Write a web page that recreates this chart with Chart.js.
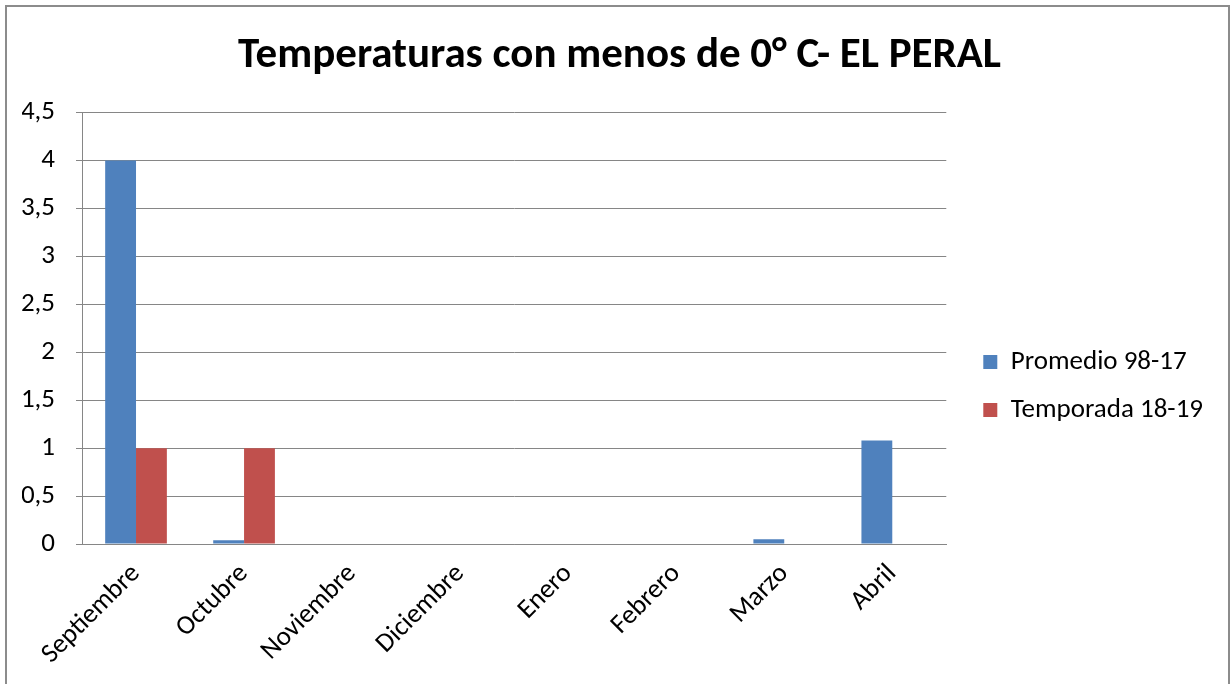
<!DOCTYPE html>
<html>
<head>
<meta charset="utf-8">
<script src="https://cdn.jsdelivr.net/npm/chart.js@4/dist/chart.umd.min.js"></script>
<style>
  html, body { margin: 0; padding: 0; background: #fff; }
  #frame {
    position: absolute; left: 5px; top: 5px; width: 1225px; height: 700px;
    border: 2px solid #8c8c8c; box-sizing: border-box;
  }
  #wrap { position: absolute; left: 0; top: 0; width: 1230px; height: 684px; }
</style>
</head>
<body>
<div id="frame"></div>
<div id="wrap"><canvas id="ctx"></canvas></div>
<script>
const months = ['Septiembre', 'Octubre', 'Noviembre', 'Diciembre', 'Enero', 'Febrero', 'Marzo', 'Abril']
const promedio = [4, 0.04, 0, 0, 0, 0, 0.05, 1.08]
const temporada = [1, 1, 0, 0, 0, 0, 0, 0]
const seriesNames = ['Promedio 98-17', 'Temporada 18-19']
const titleText = 'Temperaturas con menos de 0° C- EL PERAL'

const font = "Carlito, Calibri, 'Open Sans', sans-serif"

// nudges legend and title after layout (Excel puts them slightly off the chart.js spots)
const boxNudge = {
  id: 'boxNudge',
  afterLayout: (chart, args, opts) => {
    const lg = chart.legend
    if (lg) {
      lg.left += opts.legendDx; lg.right += opts.legendDx
      lg.top += opts.legendDy; lg.bottom += opts.legendDy
    }
    const tb = chart.titleBlock
    if (tb) {
      tb.left += opts.titleDx; tb.right += opts.titleDx
    }
  }
}

const data = {
  labels: months,
  datasets: [{
    label: seriesNames[0],
    data: promedio,
    backgroundColor: '#4f81bd',
    categoryPercentage: 0.571,
    barPercentage: 1
  }, {
    label: seriesNames[1],
    data: temporada,
    backgroundColor: '#c0504d',
    categoryPercentage: 0.571,
    barPercentage: 1
  }]
}

const chart = new Chart(document.getElementById('ctx'), {
  type: 'bar',
  data,
  options: {
    responsive: true,
    maintainAspectRatio: false,
    animation: false,
    layout: { padding: { left: 22, right: 33, top: 20, bottom: 0 } },
    plugins: {
      title: {
        display: true,
        text: titleText,
        color: '#000',
        font: { family: font, size: 43, weight: 'bold' },
        padding: { top: 10, bottom: 31 }
      },
      legend: {
        position: 'right',
        align: 'center',
        labels: {
          color: '#000',
          font: { family: font, size: 27 },
          boxWidth: 14,
          boxHeight: 14,
          padding: 21
        }
      },
      boxNudge: { legendDx: 16, legendDy: 34, titleDx: 10 },
      tooltip: { enabled: false }
    },
    scales: {
      x: {
        grid: { display: false, drawTicks: false },
        border: { color: '#868686', width: 1 },
        ticks: {
          color: '#000',
          font: { family: font, size: 27 },
          minRotation: 45,
          maxRotation: 45,
          padding: 14
        },
        afterFit: s => { s.paddingLeft = 0; s.height = 140 }
      },
      y: {
        min: 0,
        max: 4.5,
        grid: { color: '#868686', tickLength: 6 },
        border: { color: '#868686' },
        ticks: {
          stepSize: 0.5,
          color: '#000',
          font: { family: font, size: 27 },
          padding: 21,
          callback: v => String(v).replace('.', ',')
        },
        afterFit: s => { s.width = 60 }
      }
    }
  },
  plugins: [boxNudge]
})
</script>
</body>
</html>
